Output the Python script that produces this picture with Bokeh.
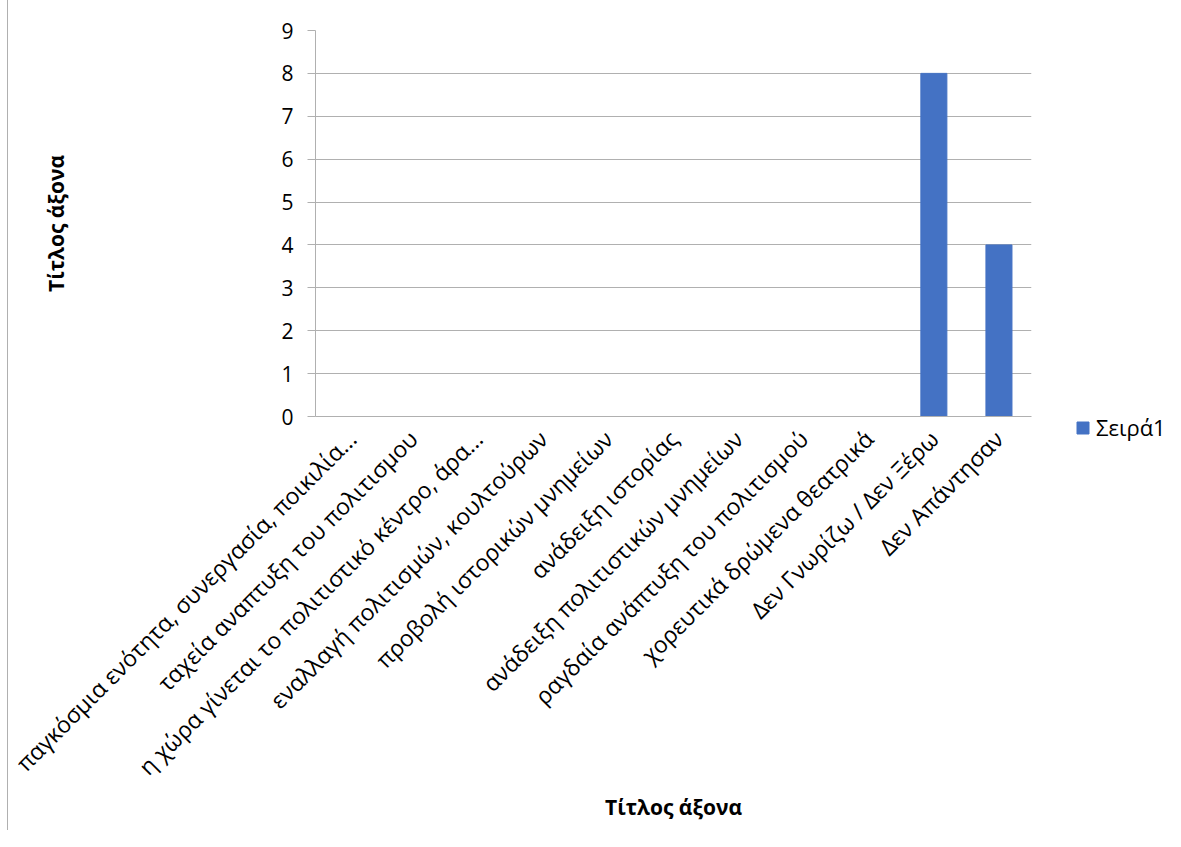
import math
from bokeh.plotting import figure
from bokeh.models import FactorRange, Range1d, FixedTicker, Legend, LegendItem
from bokeh.embed import file_html
from bokeh.resources import INLINE

categories = [
    "παγκόσμια ενότητα, συνεργασία, ποικιλία...",
    "ταχεία αναπτυξη του πολιτισμου",
    "η χώρα γίνεται το πολιτιστικό κέντρο, άρα...",
    "εναλλαγή πολιτισμών, κουλτούρων",
    "προβολή ιστορικών μνημείων",
    "ανάδειξη ιστορίας",
    "ανάδειξη πολιτιστικών μνημείων",
    "ραγδαία ανάπτυξη του πολιτισμού",
    "χορευτικά δρώμενα θεατρικά",
    "Δεν Γνωρίζω / Δεν Ξέρω",
    "Δεν Απάντησαν",
]
values_s1 = [0, 0, 0, 0, 0, 0, 0, 0, 0, 8, 4]
series_name = "Σειρά1"
y_ticks = [0, 1, 2, 3, 4, 5, 6, 7, 8, 9]
x_title = "Τίτλος άξονα"
y_title = "Τίτλος άξονα"

FONT = "Open Sans"
GRID = "#b0b0b0"

p = figure(
    x_range=FactorRange(*categories),
    y_range=Range1d(0, 9),
    frame_width=716, frame_height=386,
    min_border_left=307, min_border_right=142,
    min_border_top=22, min_border_bottom=414,
    output_backend="svg", toolbar_location=None,
)
p.styles = {"margin-left": "7px", "padding-top": "8px",
            "border-left": "1px solid #b0b0b0"}

r = p.vbar(x=categories, top=values_s1, width=0.4, fill_color="#4472C4",
           line_color="#4472C4")

p.outline_line_color = None
p.xgrid.grid_line_color = None
p.ygrid.ticker = FixedTicker(ticks=y_ticks)
p.ygrid.grid_line_color = GRID
p.ygrid.grid_line_width = 1

xa = p.xaxis[0]
xa.major_tick_line_color = None
xa.minor_tick_line_color = None
xa.axis_line_color = GRID
xa.major_label_orientation = math.pi / 4
xa.major_label_text_font = FONT
xa.major_label_text_font_size = "23px"
xa.major_label_text_color = "#000000"
xa.major_label_standoff = 12
xa.axis_label = x_title
xa.axis_label_text_font = FONT
xa.axis_label_text_font_size = "21px"
xa.axis_label_text_font_style = "bold"
xa.axis_label_text_color = "#000000"
xa.axis_label_standoff = -3

ya = p.yaxis[0]
ya.ticker = FixedTicker(ticks=y_ticks)
ya.major_tick_out = 8
ya.major_tick_in = 0
ya.major_tick_line_color = GRID
ya.minor_tick_line_color = None
ya.axis_line_color = GRID
ya.major_label_text_font = FONT
ya.major_label_text_font_size = "21px"
ya.major_label_text_color = "#000000"
ya.major_label_standoff = 14
ya.axis_label = y_title
ya.axis_label_text_font = FONT
ya.axis_label_text_font_size = "21px"
ya.axis_label_text_font_style = "bold"
ya.axis_label_text_color = "#000000"
ya.axis_label_standoff = 208

lg = Legend(items=[LegendItem(label=series_name, renderers=[r])])
lg.location = (44, -26)
lg.border_line_color = None
lg.background_fill_alpha = 0
lg.padding = 0
lg.margin = 0
lg.glyph_width = 15
lg.glyph_height = 15
lg.label_standoff = 6
lg.label_text_font = FONT
lg.label_text_font_size = "22px"
lg.label_text_color = "#000000"
p.add_layout(lg, "right")

open("out.html", "w").write(file_html(p, INLINE))
